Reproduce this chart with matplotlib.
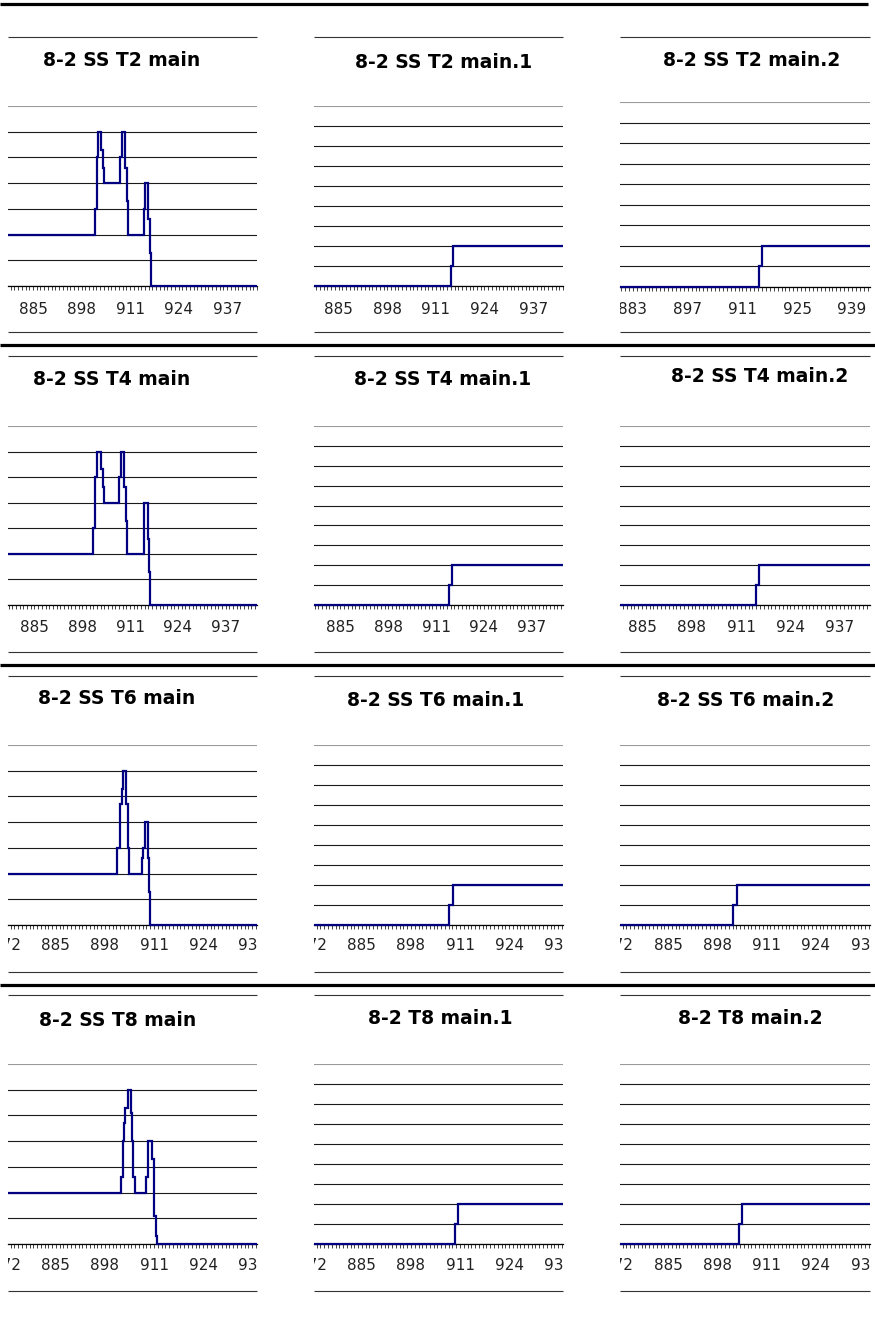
import numpy as np
import matplotlib
matplotlib.use("Agg")
import matplotlib.pyplot as plt
from matplotlib.lines import Line2D
from matplotlib.transforms import Bbox, TransformedBbox, blended_transform_factory

W, H = 875, 1324

# ---------------- data ----------------
titles = [
    ["8-2 SS T2 main", "8-2 SS T2 main.1", "8-2 SS T2 main.2"],
    ["8-2 SS T4 main", "8-2 SS T4 main.1", "8-2 SS T4 main.2"],
    ["8-2 SS T6 main", "8-2 SS T6 main.1", "8-2 SS T6 main.2"],
    ["8-2 SS T8 main", "8-2 T8 main.1", "8-2 T8 main.2"],
]

# visible cycle range of every panel (category axis)
cycle_range = [
    [(878.3, 945.0), (878.4, 945.0), (879.7, 943.6)],
    [(877.8, 945.5), (877.8, 945.5), (879.2, 944.9)],
    [(872.3, 938.3), (872.3, 938.3), (872.3, 938.3)],
    [(872.3, 938.3), (872.3, 938.3), (872.3, 938.3)],
]

labels_13 = [872, 885, 898, 911, 924, 937]
labels_14 = [869, 883, 897, 911, 925, 939]
tick_labels = [
    [labels_13, labels_13, labels_14],
    [labels_13, labels_13, labels_13],
    [labels_13, labels_13, labels_13],
    [labels_13, labels_13, labels_13],
]

y_max = [7, 9, 9]  # per column

t2_main_x = [878, 901.6, 902.1, 902.5, 903.2, 903.7, 904.1, 908.3, 908.8, 909.65, 910.1, 910.5,
             914.6, 915.0, 915.9, 916.35, 916.6, 945]
t2_main_y = [2, 3, 5, 6, 5.3, 4.6, 4, 5, 6, 4.6, 3.3, 2, 3, 4, 2.6, 1.3, 0, 0]
t2_main1_x = [878, 915.0, 915.5, 945]
t2_main1_y = [0, 1, 2, 2]
t2_main2_x = [879, 915.2, 915.9, 944]
t2_main2_y = [0, 1, 2, 2]

t4_main_x = [877, 901.0, 901.5, 901.9, 903.0, 903.6, 903.9, 908.1, 908.6, 909.4, 909.9, 910.1,
             914.7, 914.9, 915.9, 916.2, 916.5, 946]
t4_main_y = [2, 3, 5, 6, 5.3, 4.6, 4, 5, 6, 4.6, 3.3, 2, 2.6, 4, 2.6, 1.3, 0, 0]
t4_main1_x = [877, 914.5, 915.3, 946]
t4_main1_y = [0, 1, 2, 2]
t4_main2_x = [879, 914.9, 915.7, 945]
t4_main2_y = [0, 1, 2, 2]

t6_main_x = [872, 901.3, 902.0, 902.5, 902.9, 903.6, 904.2, 904.5, 907.8, 908.2, 908.6, 909.5,
             909.8, 910.0, 939]
t6_main_y = [2, 3, 4.7, 5.3, 6, 4.7, 3, 2, 2.6, 3, 4, 2.6, 1.3, 0, 0]
t6_main1_x = [872, 908.1, 909.2, 939]
t6_main1_y = [0, 1, 2, 2]
t6_main2_x = [872, 902.1, 903.2, 939]
t6_main2_y = [0, 1, 2, 2]

t8_main_x = [872, 902.2, 902.7, 903.1, 903.4, 904.0, 904.8, 905.1, 905.5, 906.0, 908.9, 909.3,
             909.5, 910.4, 910.9, 911.1, 911.6, 911.9, 939]
t8_main_y = [2, 2.6, 4, 4.7, 5.3, 6, 5.1, 4, 2.6, 2, 2.6, 3.3, 4, 3.3, 2, 1.1, 0.3, 0, 0]
t8_main1_x = [872, 909.7, 910.5, 939]
t8_main1_y = [0, 1, 2, 2]
t8_main2_x = [872, 903.7, 904.5, 939]
t8_main2_y = [0, 1, 2, 2]

series = [
    [(t2_main_x, t2_main_y), (t2_main1_x, t2_main1_y), (t2_main2_x, t2_main2_y)],
    [(t4_main_x, t4_main_y), (t4_main1_x, t4_main1_y), (t4_main2_x, t4_main2_y)],
    [(t6_main_x, t6_main_y), (t6_main1_x, t6_main1_y), (t6_main2_x, t6_main2_y)],
    [(t8_main_x, t8_main_y), (t8_main1_x, t8_main1_y), (t8_main2_x, t8_main2_y)],
]

# ---------------- layout (pixels) ----------------
col_x = [(8, 257), (314, 563), (620, 870)]
row_plot = [(106, 286), (426, 605), (745, 925), (1064, 1244)]
row_topline = [37, 356, 676, 995]
row_label_y = [309, 628, 946, 1266]
row_bottomline = [332, 652, 972, 1291]
separators = [(4, 0, 868), (345, 0, 875), (665, 0, 875), (985, 0, 875)]
title_pos = [
    [(122, 61), (444, 63), (752, 60)],
    [(112, 380), (443, 380), (760, 376)],
    [(117, 699), (436, 700), (746, 700)],
    [(118, 1021), (440, 1019), (750, 1019)],
]

NAVY = "#000080"

fig = plt.figure(figsize=(W / 100, H / 100), dpi=100)
fig.patch.set_facecolor("white")


def fy(y):
    return 1 - y / H


def hline(y, x0, x1, lw, color):
    fig.add_artist(Line2D([x0 / W, x1 / W], [fy(y), fy(y)], transform=fig.transFigure,
                          color=color, lw=lw, solid_capstyle="butt"))


for (y, x0, x1) in separators:
    hline(y, x0, x1, 2.3, "black")

for r in range(4):
    for c in range(3):
        x0p, x1p = col_x[c]
        top, bottom = row_plot[r]
        if r == 0 and c == 2:
            top, bottom = 102, 287
        ax = fig.add_axes([x0p / W, fy(bottom), (x1p - x0p) / W, (bottom - top) / H])
        lo, hi = cycle_range[r][c]
        ym = y_max[c]
        ax.set_xlim(lo, hi)
        ax.set_ylim(0, ym)
        for s in ["top", "left", "right"]:
            ax.spines[s].set_visible(False)
        ax.spines["bottom"].set_color("black")
        ax.spines["bottom"].set_linewidth(0.9)
        ax.set_yticks(np.arange(0, ym + 1))
        ax.yaxis.grid(True, color="#1a1a1a", lw=0.8)
        ax.tick_params(axis="y", length=0, labelleft=False)
        ax.get_ygridlines()[-1].set_color("#9a9a9a")
        ax.set_xticks([])
        ax.set_xticks(np.arange(np.ceil(lo), np.floor(hi) + 1), minor=True)
        ax.tick_params(axis="x", which="minor", direction="out", length=3.2, width=0.6,
                       color="#222222")
        ax.set_axisbelow(True)

        xs, ys = series[r][c]
        ln, = ax.plot(xs, ys, drawstyle="steps-post", color=NAVY, lw=1.6,
                      solid_joinstyle="miter", zorder=5)
        ln.set_clip_path(None)
        ln.set_clip_box(TransformedBbox(Bbox([[0, -0.03], [1, 1.02]]), ax.transAxes))

        # tick labels, clipped to the panel's width (labels wholly outside are skipped)
        trans = blended_transform_factory(ax.transData, fig.transFigure)
        clip = TransformedBbox(Bbox([[x0p / W, 0], [x1p / W, 1]]), fig.transFigure)
        for v in tick_labels[r][c]:
            if v < lo - 1.5 or v > hi + 1.5:
                continue
            t = ax.text(v, fy(row_label_y[r]), str(v), transform=trans, ha="center",
                        va="center", fontsize=11, color="#222222", family="DejaVu Sans",
                        clip_on=True)
            t.set_clip_path(None)
            t.set_clip_box(clip)

        hline(row_topline[r], x0p, x1p, 0.8, "#333333")
        hline(row_bottomline[r], x0p, x1p, 0.8, "#333333")

        tx, ty = title_pos[r][c]
        fig.text(tx / W, fy(ty), titles[r][c], ha="center", va="center",
                 fontsize=13.5, fontweight="bold", family="DejaVu Sans", color="black")

fig.savefig("out.png", dpi=100, facecolor="white")
